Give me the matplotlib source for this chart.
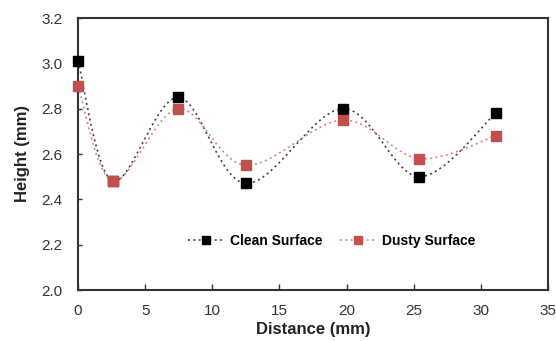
import matplotlib.pyplot as plt
import numpy as np

plt.rcParams['font.family'] = ['Liberation Sans', 'DejaVu Sans']

distance = [0.0, 2.6, 7.45, 12.5, 19.7, 25.4, 31.1]
clean = [3.01, 2.48, 2.85, 2.47, 2.80, 2.50, 2.78]
dusty = [2.90, 2.48, 2.80, 2.55, 2.75, 2.58, 2.68]


def smooth(xs, ys, n=30):
    # Catmull-Rom style smoothing like the spreadsheet "smoothed line"
    p = np.column_stack([xs, ys])
    pts = [p[0]]
    for i in range(len(p) - 1):
        p0 = p[i - 1] if i > 0 else p[i]
        p3 = p[i + 2] if i + 2 < len(p) else p[i + 1]
        c1 = p[i] + (p[i + 1] - p0) / 6
        c2 = p[i + 1] - (p3 - p[i]) / 6
        t = np.linspace(0, 1, n)[1:, None]
        seg = ((1 - t) ** 3 * p[i] + 3 * (1 - t) ** 2 * t * c1
               + 3 * (1 - t) * t ** 2 * c2 + t ** 3 * p[i + 1])
        pts.extend(seg)
    pts = np.array(pts)
    return pts[:, 0], pts[:, 1]


fig = plt.figure(figsize=(5.56, 3.41), dpi=100)
ax = fig.add_axes([78 / 556, 1 - 290 / 341, 470 / 556, 272 / 341])

series = [(clean, 'black', '#444444', 'Clean Surface'),
          (dusty, '#c0504d', '#d98482', 'Dusty Surface')]
dots = (0, (1.2, 2.0))
for vals, col, lcol, lab in series:
    sx, sy = smooth(distance, vals)
    ax.plot(sx, sy, ls=dots, color=lcol, lw=1.2, zorder=2)
    ax.plot(distance, vals, 's', color=col, ms=7.5, zorder=3, clip_on=False)
    ax.plot([], [], ls=dots, color=lcol, lw=1.2, marker='s', mfc=col, mec=col,
            ms=6, label=lab)

ax.set_xlim(0, 35)
ax.set_ylim(2.0, 3.2)
ax.set_xticks(np.arange(0, 36, 5))
ax.set_yticks(np.arange(2.0, 3.21, 0.2))
ax.set_yticklabels([f'{v:.1f}' for v in np.arange(2.0, 3.21, 0.2)])
ax.tick_params(direction='in', length=4, width=1, labelsize=11, colors='#333333')
ax.tick_params(axis='x', pad=10)
ax.tick_params(axis='y', length=3, pad=11)
for s in ax.spines.values():
    s.set_linewidth(1.5)
    s.set_color('#333333')

ax.set_xlabel('Distance (mm)', fontsize=12, fontweight='bold', color='#222222', labelpad=3)
ax.set_ylabel('Height (mm)', fontsize=12, fontweight='bold', color='#222222', labelpad=8)

leg = ax.legend(loc='center', bbox_to_anchor=(0.54, 0.18), ncol=2, frameon=False,
                prop={'weight': 'bold', 'size': 10}, handlelength=2.6, columnspacing=1.3,
                handletextpad=0.4)

fig.savefig('out.png', dpi=100)
